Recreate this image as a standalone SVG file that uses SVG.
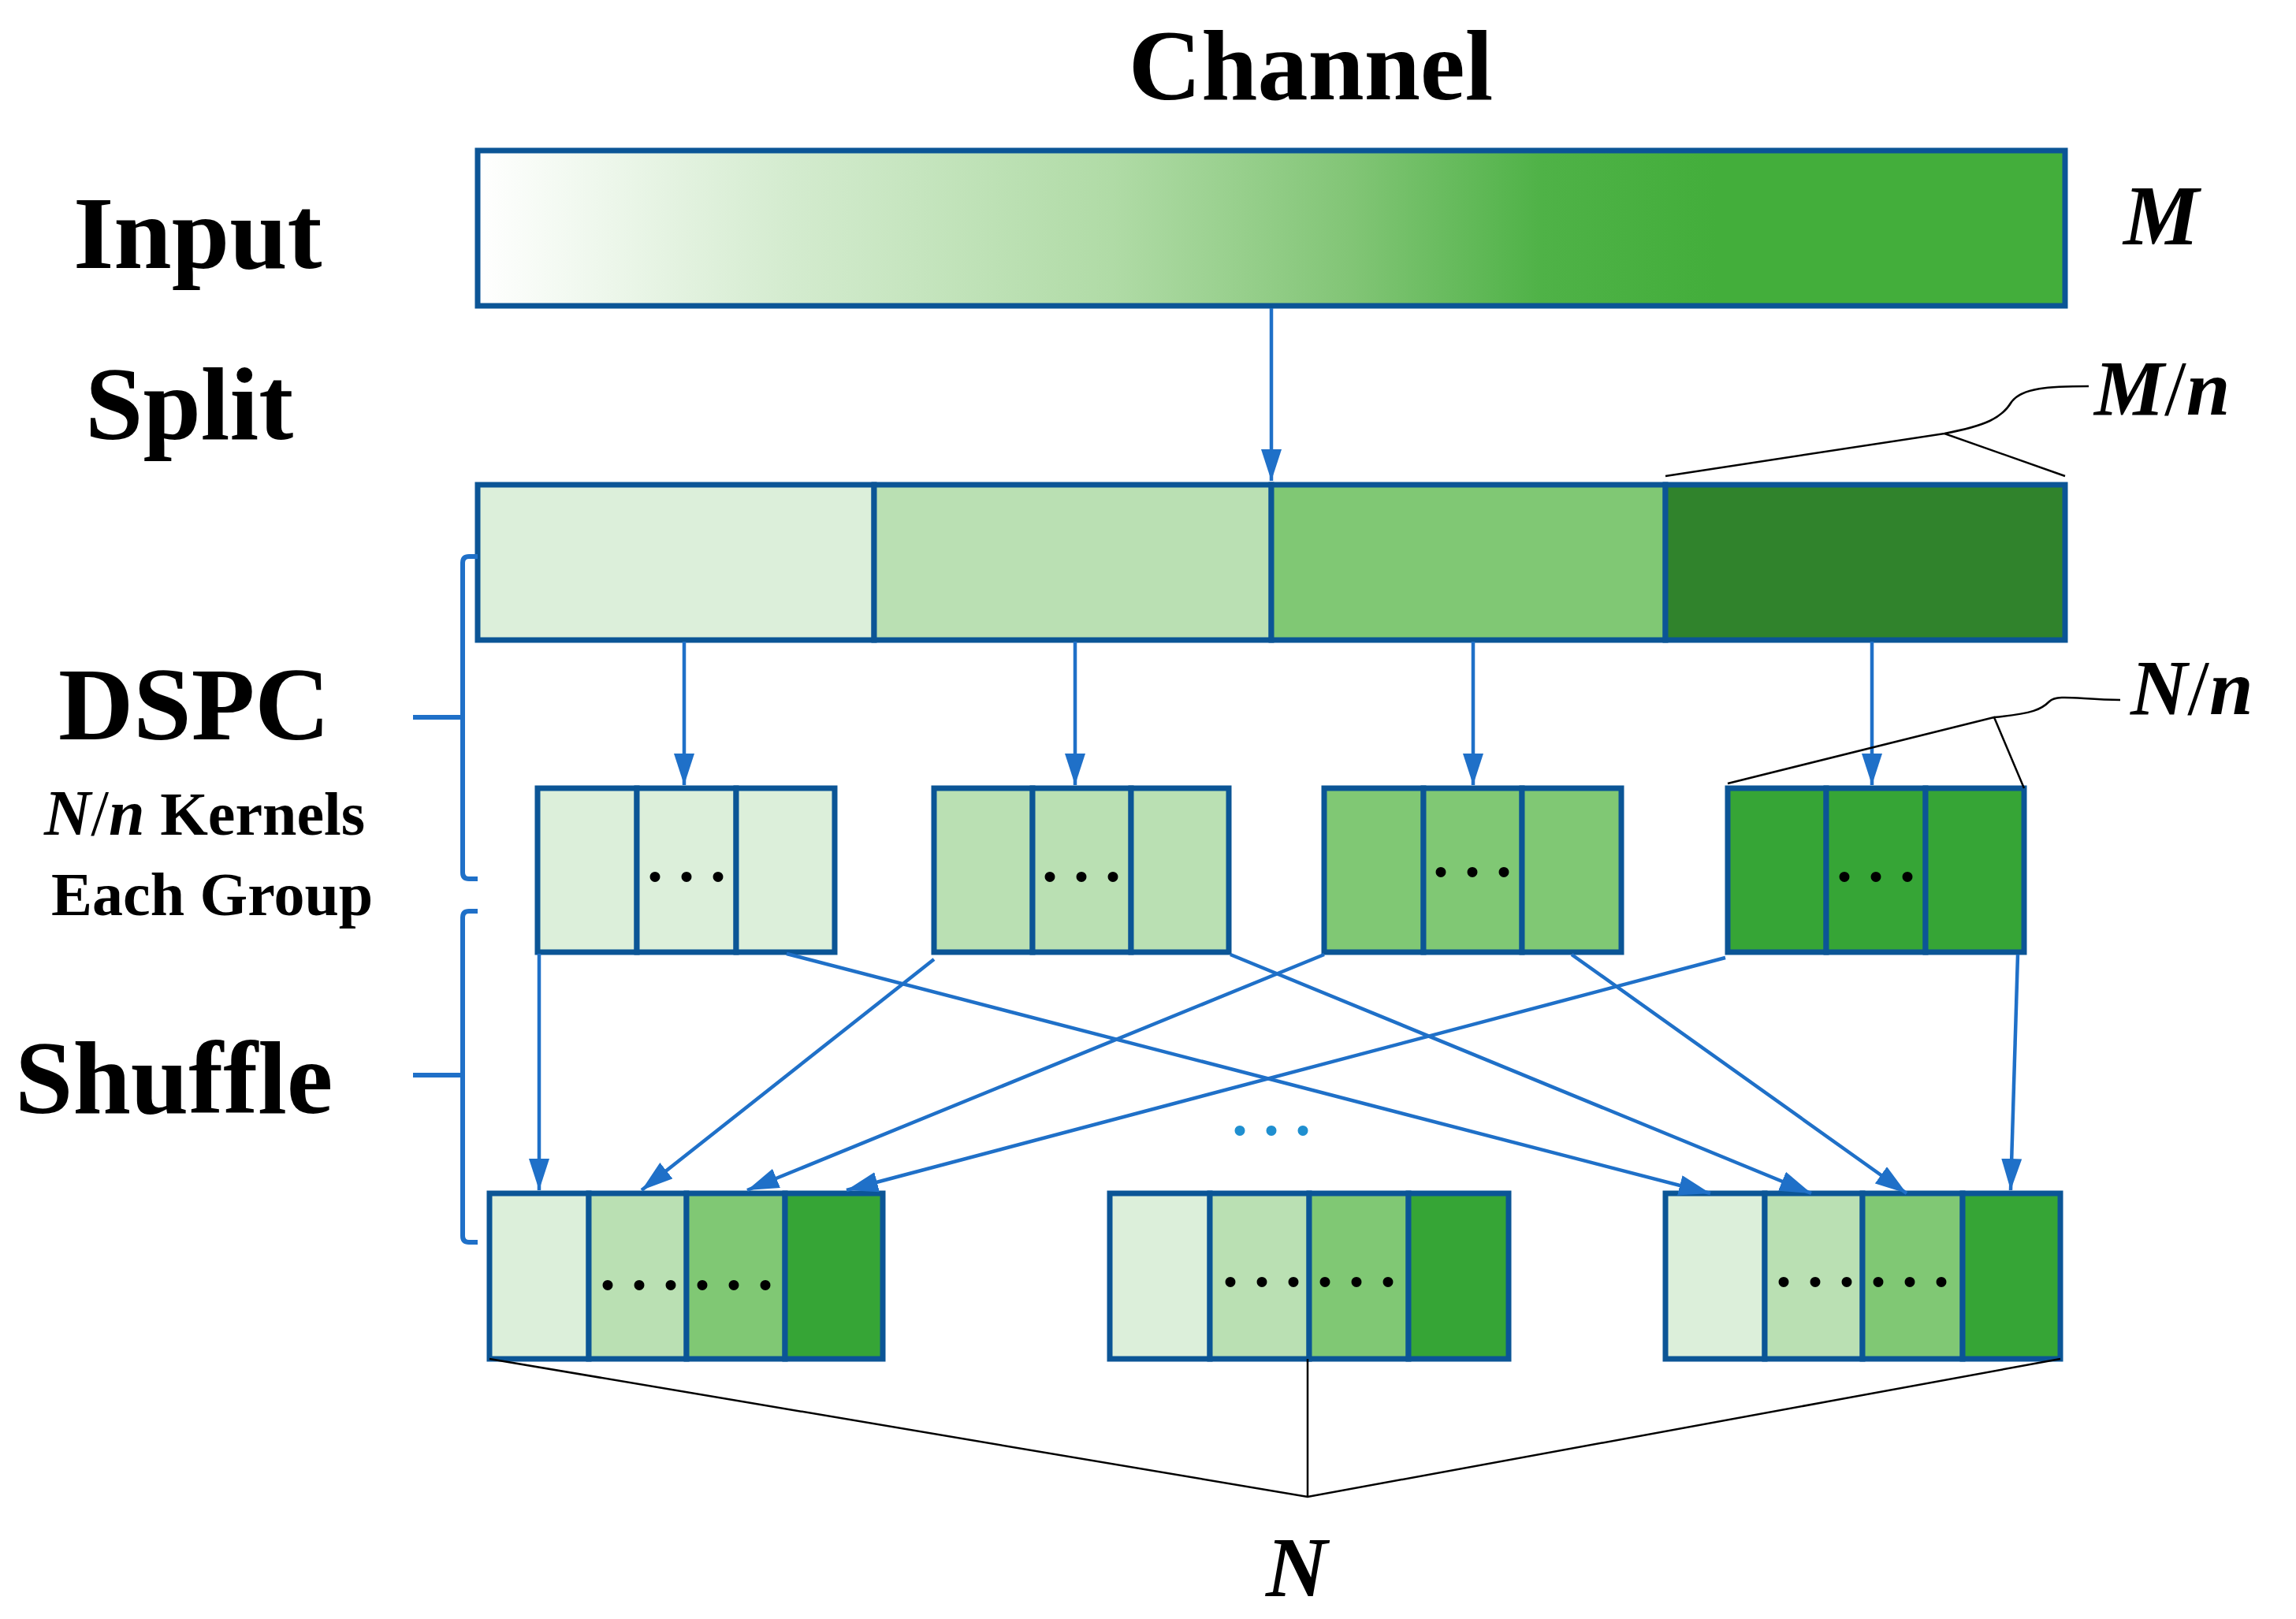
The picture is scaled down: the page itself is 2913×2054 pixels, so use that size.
<svg xmlns="http://www.w3.org/2000/svg" width="2913" height="2054" viewBox="0 0 2913 2054">
<defs>
<linearGradient id="g" x1="0" x2="1" y1="0" y2="0">
<stop offset="0" stop-color="#ffffff"/>
<stop offset="0.2" stop-color="#d3ebce"/>
<stop offset="0.4" stop-color="#b0dba6"/>
<stop offset="0.55" stop-color="#82c576"/>
<stop offset="0.67" stop-color="#4fb247"/>
<stop offset="0.78" stop-color="#43ae3b"/>
<stop offset="1" stop-color="#43ae3b"/>
</linearGradient>
<marker id="a" viewBox="0 0 40 26" refX="40" refY="13" markerWidth="40" markerHeight="26" markerUnits="userSpaceOnUse" orient="auto">
<path d="M0,0 L40,13 L0,26 z" fill="#1f70c8"/>
</marker>
</defs>
<style>
.t{font-family:"Liberation Serif","Times New Roman",serif;font-weight:bold;fill:#000}
.i{font-style:italic}
.bx{stroke:#0b5596;stroke-width:7}
.c1{fill:#dcefda}.c2{fill:#bae0b3}.c3{fill:#80c874}.c4{fill:#30832c}.c5{fill:#36a536}
.ar{stroke:#1f70c8;stroke-width:4.5;fill:none;marker-end:url(#a)}
.br{stroke:#1f70c8;stroke-width:6;fill:none}
.bk{stroke:#000;stroke-width:2.5;fill:none}
.dot{font-family:"Liberation Serif",serif;font-weight:bold;font-size:80px;fill:#000;text-anchor:middle}
</style>
<g id="labels">
<text class="t" x="1663" y="126" font-size="128" text-anchor="middle">Channel</text>
<text class="t" x="93" y="340" font-size="132">Input</text>
<text class="t" x="108" y="557" font-size="132">Split</text>
<text class="t" x="74" y="938" font-size="132">DSPC</text>
<text class="t" x="56" y="1059" font-size="78"><tspan class="i" font-size="82">N</tspan><tspan font-weight="normal" font-size="82">/</tspan><tspan class="i" font-size="82">n</tspan> Kernels</text>
<text class="t" x="65" y="1161" font-size="78">Each Group</text>
<text class="t" x="19" y="1412" font-size="132">Shuffle</text>
<text class="t i" x="2694" y="310" font-size="108">M</text>
<text class="t i" x="2657" y="526" font-size="100">M<tspan font-weight="normal" font-style="normal">/</tspan>n</text>
<text class="t i" x="2703" y="906" font-size="100">N<tspan font-weight="normal" font-style="normal">/</tspan>n</text>
<text class="t i" x="1645" y="2025" font-size="108" text-anchor="middle">N</text>
</g>
<g id="input"><rect class="bx" x="606" y="191" width="2014" height="197" fill="url(#g)"/></g>
<g id="split">
<rect class="bx c1" x="606" y="615" width="503" height="197"/>
<rect class="bx c2" x="1109" y="615" width="504" height="197"/>
<rect class="bx c3" x="1613" y="615" width="500" height="197"/>
<rect class="bx c4" x="2113" y="615" width="507" height="197"/>
</g>
<g id="dspc1">
<rect class="bx c1" x="682" y="1000" width="126" height="208"/><rect class="bx c1" x="808" y="1000" width="126" height="208"/><rect class="bx c1" x="934" y="1000" width="125" height="208"/>
<text class="dot" x="871" y="1118">. . .</text></g>
<g id="dspc2">
<rect class="bx c2" x="1185" y="1000" width="125" height="208"/><rect class="bx c2" x="1310" y="1000" width="125" height="208"/><rect class="bx c2" x="1435" y="1000" width="124" height="208"/>
<text class="dot" x="1372" y="1118">. . .</text></g>
<g id="dspc3">
<rect class="bx c3" x="1680" y="1000" width="126" height="208"/><rect class="bx c3" x="1806" y="1000" width="125" height="208"/><rect class="bx c3" x="1931" y="1000" width="126" height="208"/>
<text class="dot" x="1868" y="1112">. . .</text></g>
<g id="dspc4">
<rect class="bx c5" x="2192" y="1000" width="125" height="208"/><rect class="bx c5" x="2317" y="1000" width="126" height="208"/><rect class="bx c5" x="2443" y="1000" width="125" height="208"/>
<text class="dot" x="2380" y="1118">. . .</text></g>
<g id="out1">
<rect class="bx c1" x="621" y="1514" width="126" height="210"/><rect class="bx c2" x="747" y="1514" width="124" height="210"/><rect class="bx c3" x="871" y="1514" width="125" height="210"/><rect class="bx c5" x="996" y="1514" width="124" height="210"/>
<text class="dot" x="871" y="1636">. . . . . .</text></g>
<g id="out2">
<rect class="bx c1" x="1408" y="1514" width="127" height="210"/><rect class="bx c2" x="1535" y="1514" width="126" height="210"/><rect class="bx c3" x="1661" y="1514" width="126" height="210"/><rect class="bx c5" x="1787" y="1514" width="127" height="210"/>
<text class="dot" x="1661" y="1632">. . . . . .</text></g>
<g id="out3">
<rect class="bx c1" x="2113" y="1514" width="126" height="210"/><rect class="bx c2" x="2239" y="1514" width="124" height="210"/><rect class="bx c3" x="2363" y="1514" width="127" height="210"/><rect class="bx c5" x="2490" y="1514" width="124" height="210"/>
<text class="dot" x="2363" y="1632">. . . . . .</text></g>
<text id="mid-dots" x="1613" y="1440" font-family="Liberation Serif,serif" font-weight="bold" font-size="80" fill="#1f8fd0" text-anchor="middle">. . .</text>
<g id="connectors">
<line class="ar" x1="1613" y1="391" x2="1613" y2="610"/>
<line class="ar" x1="868" y1="814" x2="868" y2="996"/>
<line class="ar" x1="1364" y1="814" x2="1364" y2="996"/>
<line class="ar" x1="1869" y1="814" x2="1869" y2="996"/>
<line class="ar" x1="2375" y1="814" x2="2375" y2="996"/>
<line class="ar" x1="684" y1="1210" x2="684" y2="1510"/>
<line class="ar" x1="998" y1="1210" x2="2170" y2="1514"/>
<line class="ar" x1="1185" y1="1217" x2="814" y2="1510"/>
<line class="ar" x1="1561" y1="1211" x2="2298" y2="1514"/>
<line class="ar" x1="1680" y1="1211" x2="948" y2="1510"/>
<line class="ar" x1="1994" y1="1211" x2="2419" y2="1514"/>
<line class="ar" x1="2189" y1="1215" x2="1074" y2="1510"/>
<line class="ar" x1="2560" y1="1211" x2="2551" y2="1510"/>
</g>
<g id="braces">
<path class="br" d="M606,706 H595 Q587,706 587,714 V1107 Q587,1115 595,1115 H606 M587,910 H524"/>
<path class="br" d="M606,1156 H595 Q587,1156 587,1164 V1568 Q587,1576 595,1576 H606 M587,1364 H524"/>
</g>
<g id="dims">
<path class="bk" d="M2113,604 L2467,550 L2620,604 M2467,550 C2520,540 2540,530 2552,510 C2565,492 2600,490 2650,490"/>
<path class="bk" d="M2192,994 L2530,910 L2568,1000 M2530,910 C2580,905 2590,900 2600,890 C2610,880 2640,888 2690,888"/>
<path class="bk" d="M621,1724 L1659,1899 L2614,1724 M1659,1724 V1899"/>
</g>
</svg>
